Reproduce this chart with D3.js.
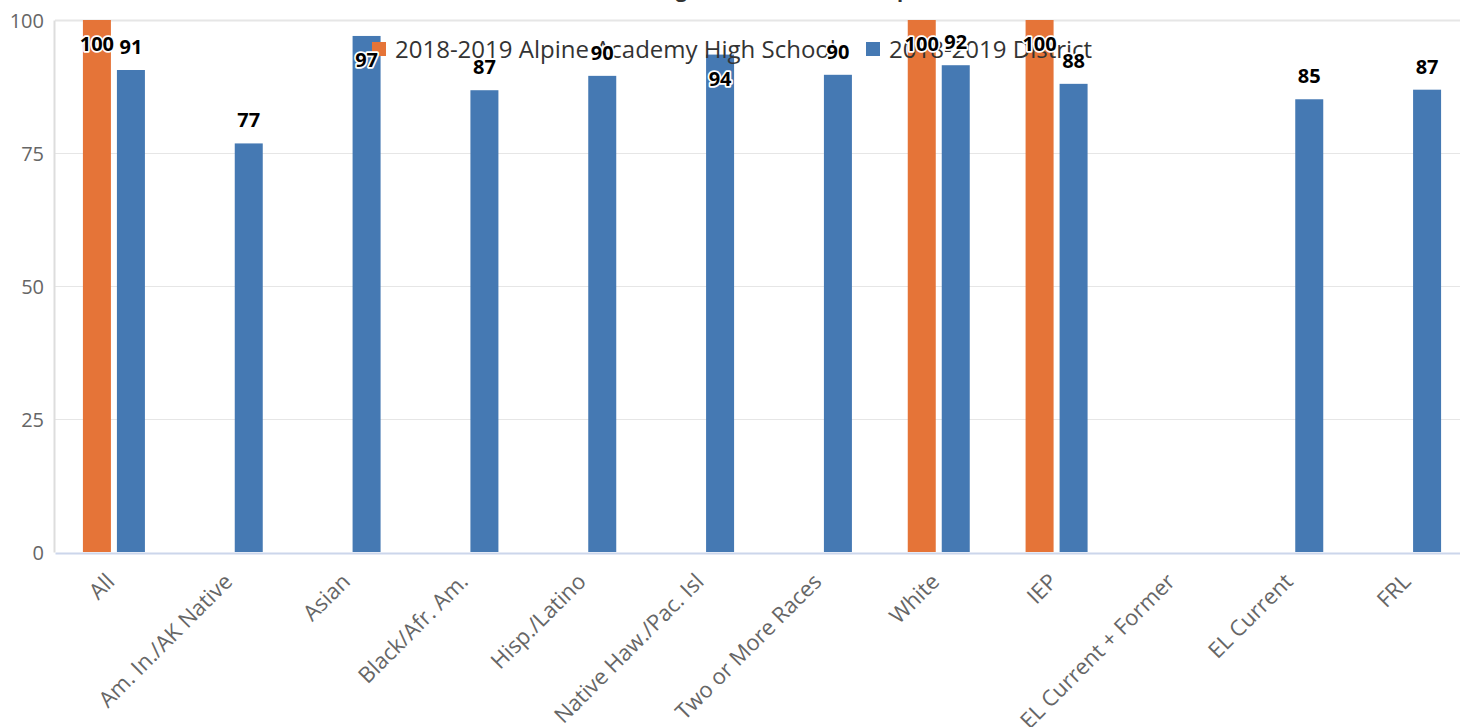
<!DOCTYPE html>
<html>
<head>
<meta charset="utf-8">
<script src="https://cdn.jsdelivr.net/npm/d3@7"></script>
<style>
  html, body { margin: 0; padding: 0; background: #fff; }
  svg { display: block; font-family: "Open Sans", sans-serif; }
</style>
</head>
<body>
<svg id="chart" width="1460" height="727"></svg>
<script>
const categories = ["All", "Am. In./AK Native", "Asian", "Black/Afr. Am.", "Hisp./Latino",
  "Native Haw./Pac. Isl", "Two or More Races", "White", "IEP", "EL Current + Former",
  "EL Current", "FRL"];
const seriesNames = ["2018-2019 Alpine Academy High School", "2018-2019 District"];
const schoolValues = [100, null, null, null, null, null, null, 100, 100, null, null, null];
const districtValues = [90.6, 76.8, 97.0, 86.8, 89.5, 93.5, 89.7, 91.5, 88.0, null, 85.1, 86.9];
const yTicks = [0, 25, 50, 75, 100];
const colors = ["#e57438", "#4579b3"];
const titleText = "Four-Year Graduating Class Retention Comparison";

const svg = d3.select("#chart");
const plotLeft = 55, plotRight = 1469, plotTop = 20, plotBottom = 552;

const x = d3.scaleBand().domain(categories).range([plotLeft, plotRight]);
const bw = x.bandwidth();
const x1 = d3.scaleBand().domain(seriesNames)
  .range([bw / 2 - 31, bw / 2 + 31]).paddingInner(6 / 34);
const y = d3.scaleLinear().domain([0, 100]).range([plotBottom, plotTop]);

// title (clipped at top)
svg.append("text").attr("x", 722).attr("y", -3).attr("text-anchor", "middle")
  .attr("font-size", 20).attr("font-weight", "bold").attr("fill", "#333").text(titleText);

// gridlines
const grid = svg.append("g");
yTicks.filter(t => t > 0).forEach(t => {
  grid.append("line").attr("x1", plotLeft).attr("x2", 1460)
    .attr("y1", Math.round(y(t)) + 0.5).attr("y2", Math.round(y(t)) + 0.5)
    .attr("stroke", "#e6e6e6").attr("stroke-width", t === 100 ? 2 : 1);
});

// y axis
const yAxis = d3.axisLeft(y).tickValues(yTicks).tickSize(0).tickPadding(10);
const yg = svg.append("g").attr("transform", `translate(${plotLeft - 1},0)`).call(yAxis);
yg.select(".domain").attr("stroke", "#dddddd").attr("stroke-width", 2);
yg.selectAll("text").attr("font-size", 20).attr("fill", "#666")
  .attr("font-family", "Open Sans, sans-serif").attr("dy", "0.35em");

// bars
const data = [];
categories.forEach((c, i) => {
  data.push({ cat: c, s: seriesNames[0], v: schoolValues[i], color: colors[0] });
  data.push({ cat: c, s: seriesNames[1], v: districtValues[i], color: colors[1] });
});
const valid = data.filter(d => d.v != null);
svg.append("g").selectAll("rect").data(valid).enter().append("rect")
  .attr("x", d => x(d.cat) + x1(d.s))
  .attr("y", d => y(d.v))
  .attr("width", x1.bandwidth())
  .attr("height", d => y(0) - y(d.v))
  .attr("fill", d => d.color);

// x axis
const xAxis = d3.axisBottom(x).tickSize(0).tickPadding(0);
const xg = svg.append("g").attr("transform", `translate(0,${plotBottom + 1})`).call(xAxis);
xg.select(".domain").attr("stroke", "#ccd6eb").attr("stroke-width", 2);
xg.selectAll(".tick text")
  .attr("font-size", 22).attr("fill", "#666").attr("font-family", "Open Sans, sans-serif")
  .attr("text-anchor", "end").attr("dy", 0)
  .attr("transform", "translate(2,30) rotate(-45)");

// legend
const legend = svg.append("g");
const legendItems = [{ x: 372, name: seriesNames[0], color: colors[0] },
                     { x: 866, name: seriesNames[1], color: colors[1] }];
legendItems.forEach(it => {
  legend.append("rect").attr("x", it.x).attr("y", 42).attr("width", 14).attr("height", 14)
    .attr("fill", it.color);
  legend.append("text").attr("x", it.x + 23).attr("y", 58).attr("font-size", 24)
    .attr("fill", "#333").text(it.name);
});

// data labels
svg.append("g").selectAll("text").data(valid).enter().append("text")
  .attr("x", d => x(d.cat) + x1(d.s) + x1.bandwidth() / 2)
  .attr("y", d => (y(d.v) - 40 < plotTop) ? y(d.v) + 31 : y(d.v) - 16)
  .attr("text-anchor", "middle")
  .attr("font-size", 20).attr("font-weight", "bold").attr("fill", "#000")
  .attr("stroke", "#fff").attr("stroke-width", 3.5).attr("stroke-linejoin", "round")
  .attr("paint-order", "stroke")
  .text(d => Math.round(d.v));
</script>
</body>
</html>
